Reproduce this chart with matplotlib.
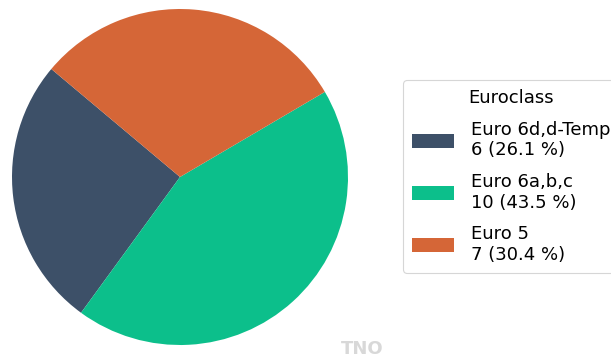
import matplotlib
matplotlib.use("Agg")
import matplotlib.pyplot as plt

# data
classes = ["Euro 6d,d-Temp", "Euro 6a,b,c", "Euro 5"]
counts = [6, 10, 7]
colors = ["#3d5068", "#0cbf8b", "#d56637"]

total = sum(counts)
labels = [f"{c}\n{n} ({100 * n / total:.1f} %)" for c, n in zip(classes, counts)]

W, H = 611, 358
fig = plt.figure(figsize=(W / 100, H / 100), dpi=100)

# pie: centre (180, 177) px, radius 168 px
cx, cy, r = 180, 177, 168
ax = fig.add_axes([(cx - r) / W, (H - cy - r) / H, 2 * r / W, 2 * r / H])
wedges, _ = ax.pie(counts, colors=colors, startangle=140, counterclock=True,
                   wedgeprops=dict(linewidth=0))
ax.set_xlim(-1, 1)
ax.set_ylim(-1, 1)
ax.set_aspect("equal")
ax.axis("off")

leg = fig.legend(wedges, labels, title="Euroclass",
                 loc="upper left", bbox_to_anchor=(403 / W, 1 - 80 / H),
                 borderaxespad=0, fontsize=13, title_fontsize=13,
                 frameon=True, handlelength=2.3, handleheight=0.8,
                 handletextpad=0.95, labelspacing=0.75, borderpad=0.5,
                 fancybox=True, edgecolor="#cccccc")
leg.get_frame().set_linewidth(0.8)

# watermark
fig.text(362 / W, 1 - 349 / H, "TNO", ha="center", va="center",
         fontsize=13, fontweight="bold", color="#d8d8d8")

fig.savefig("out.png", dpi=100)
